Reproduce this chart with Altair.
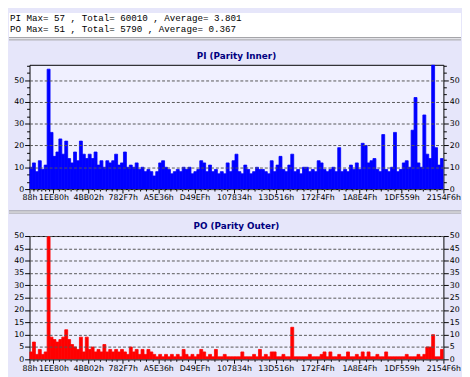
import altair as alt
import pandas as pd

HEADER_LINES = [
    "PI Max= 57 , Total= 60010 , Average= 3.801",
    "PO Max= 51 , Total= 5790 , Average= 0.367",
]
PI_TITLE = "PI (Parity Inner)"
PO_TITLE = "PO (Parity Outer)"
X_TICK_LABELS = ["88h", "1EE80h", "4BB02h", "782F7h", "A5E36h", "D49EFh",
                 "107834h", "13D516h", "172F4Fh", "1A8E4Fh", "1DF559h", "2154F6h"]
PI_Y_TICKS = [0, 10, 20, 30, 40, 50]
PO_Y_TICKS = [0, 5, 10, 15, 20, 25, 30, 35, 40, 45, 50]
PI_YMAX = 57
PO_YMAX = 50

PI_VALUES = [
    10, 12, 8, 13, 9, 11, 55, 26, 15, 17,
    23, 16, 22, 14, 12, 17, 13, 22, 16, 14,
    16, 14, 17, 11, 13, 10, 13, 12, 13, 16,
    11, 12, 17, 10, 11, 10, 12, 9, 10, 8,
    9, 8, 6, 8, 12, 13, 10, 9, 7, 8,
    9, 8, 10, 9, 10, 7, 8, 9, 13, 12,
    8, 11, 8, 9, 7, 8, 7, 12, 8, 13,
    16, 8, 7, 11, 9, 7, 8, 10, 9, 9,
    8, 7, 13, 8, 11, 15, 9, 8, 11, 16,
    8, 9, 7, 10, 10, 8, 9, 8, 13, 12,
    9, 8, 9, 10, 8, 19, 8, 9, 8, 11,
    9, 12, 9, 21, 20, 12, 13, 14, 9, 8,
    25, 9, 8, 10, 26, 8, 9, 12, 13, 10,
    27, 42, 12, 10, 34, 16, 14, 57, 19, 11, 14,
]
PO_VALUES = [
    3, 7, 2, 4, 2, 3, 51, 9, 8, 7,
    8, 9, 12, 8, 6, 5, 4, 9, 3, 9,
    4, 5, 3, 4, 3, 6, 3, 4, 3, 4,
    3, 4, 3, 2, 5, 3, 4, 2, 4, 2,
    4, 3, 2, 1, 2, 1, 2, 1, 2, 1,
    2, 1, 4, 2, 1, 2, 1, 2, 4, 3,
    1, 2, 1, 4, 1, 1, 2, 1, 1, 1,
    1, 1, 3, 1, 1, 1, 2, 1, 4, 1,
    2, 1, 3, 3, 1, 1, 2, 1, 1, 13,
    1, 1, 1, 1, 1, 2, 1, 1, 1, 2,
    3, 1, 3, 1, 1, 2, 1, 1, 3, 1,
    1, 2, 1, 3, 1, 3, 1, 1, 2, 1,
    1, 3, 1, 1, 1, 1, 1, 1, 2, 1,
    1, 1, 2, 1, 2, 5, 5, 10, 1, 1, 4,
]

PANEL_BG = "#E6E6FA"
PLOT_BG = "#F0F0FF"
W = 423
FONT = "DejaVu Sans"

x_ticks = [int(s[:-1], 16) for s in X_TICK_LABELS]
X_MIN, X_MAX = x_ticks[0], x_ticks[-1]
minor_x = []
for a, b in zip(x_ticks[:-1], x_ticks[1:]):
    for k in range(1, 6):
        minor_x.append(a + (b - a) * k / 6)

one = pd.DataFrame({"v": [0]})


def frame(values):
    n = len(values)
    step = (X_MAX - X_MIN) / n
    return pd.DataFrame({
        "start": [X_MIN + i * step for i in range(n)],
        "end": [X_MIN + (i + 1) * step for i in range(n)],
        "value": values,
        "base": [0] * n,
    })


def hrule(y, color):
    return alt.Chart(one).mark_rule(color=color, strokeWidth=1).encode(
        x=alt.value(-21), x2=alt.value(441), y=alt.value(y))


def panel(values, color, title, ymax, yticks, minor_y, height, title_y, extra):
    df = frame(values)
    xs = alt.Scale(domain=[X_MIN, X_MAX], nice=False, zero=False)
    ys = alt.Scale(domain=[0, ymax], nice=False, zero=True)
    lab = dict(labelFont=FONT, labelFontSize=8, labelColor="black")
    xaxis = alt.Axis(values=x_ticks, labelExpr="format(datum.value, 'X') + 'h'",
                     title=None, grid=False, domain=False, tickSize=4,
                     tickColor="black", labelPadding=1, labelOverlap=False,
                     labelFlush=False, labelBound=False, orient="bottom", **lab)
    xminor = alt.Axis(values=minor_x, labels=False, title=None, grid=False,
                      domain=False, tickSize=2, tickColor="black", orient="bottom")
    yleft = alt.Axis(values=yticks, title=None, grid=True, gridDash=[3, 2],
                     gridColor="#555555", domain=False, tickSize=5,
                     tickColor="black", labelPadding=1, orient="left", zindex=1, **lab)
    yright = alt.Axis(values=yticks, title=None, grid=False, domain=False,
                      tickSize=5, tickColor="black", labelPadding=1,
                      orient="right", **lab)
    bars = alt.Chart(df).mark_rect(color=color, stroke=color, strokeWidth=0.8,
                                   clip=True).encode(
        x=alt.X("start:Q", scale=xs, axis=xaxis), x2="end:Q",
        y=alt.Y("value:Q", scale=ys, axis=yleft), y2="base:Q")
    right = alt.Chart(one).mark_point(opacity=0).encode(
        y=alt.Y("v:Q", scale=ys, axis=yright))
    xm = alt.Chart(one).mark_point(opacity=0).encode(
        x=alt.X("v:Q", scale=xs, axis=xminor))
    layers = list(extra) + [bars, right, xm]
    if minor_y:
        for orient in ["left", "right"]:
            ax = alt.Axis(values=minor_y, labels=False, title=None, grid=False,
                          domain=False, tickSize=3, tickColor="black", orient=orient)
            layers.append(alt.Chart(one).mark_point(opacity=0).encode(
                y=alt.Y("v:Q", scale=ys, axis=ax)))
    ttl = alt.Chart(one).mark_text(text=title, font=FONT, fontWeight="bold",
                                   fontSize=9, color="#000080", align="center",
                                   baseline="alphabetic").encode(
        x=alt.value(W / 2), y=alt.value(title_y))
    layers.append(ttl)
    return alt.layer(*layers).resolve_axis(x="independent", y="independent").properties(
        width=W, height=height,
        view=alt.ViewBackground(fill=PLOT_BG, stroke="black", strokeWidth=1))


band = alt.Chart(one).mark_rect(color="white").encode(
    x=alt.value(-21), x2=alt.value(441), y=alt.value(-53), y2=alt.value(-28))
hdr = [
    alt.Chart(one).mark_text(text=HEADER_LINES[i], font="Liberation Mono",
                             fontSize=9.4, align="left", baseline="alphabetic",
                             color="black").encode(x=alt.value(-20), y=alt.value(yy))
    for i, yy in enumerate([-45, -34])
]
pi_extra = [band] + hdr + [
    hrule(-27.5, "#707070"), hrule(-26.5, "#FFFFFF"), hrule(-25.5, "#A0A0A0"),
    hrule(149.5, "#707070"), hrule(150.5, "#FFFFFF"), hrule(151.5, "#A0A0A0"),
]
po_extra = [hrule(-21, PANEL_BG)]

pi_minor = [k * 10 / 3 for k in range(1, 18) if k % 3 != 0]

pi = panel(PI_VALUES, "#0000FF", PI_TITLE, PI_YMAX, PI_Y_TICKS, pi_minor, 127, -6, pi_extra)
po = panel(PO_VALUES, "#FF0000", PO_TITLE, PO_YMAX, PO_Y_TICKS, None, 126, -7.5, po_extra)

chart = alt.vconcat(pi, po, spacing=0).properties(padding=0, background=PANEL_BG)
chart.save("out.html", embed_options={"renderer": "svg", "actions": False})
